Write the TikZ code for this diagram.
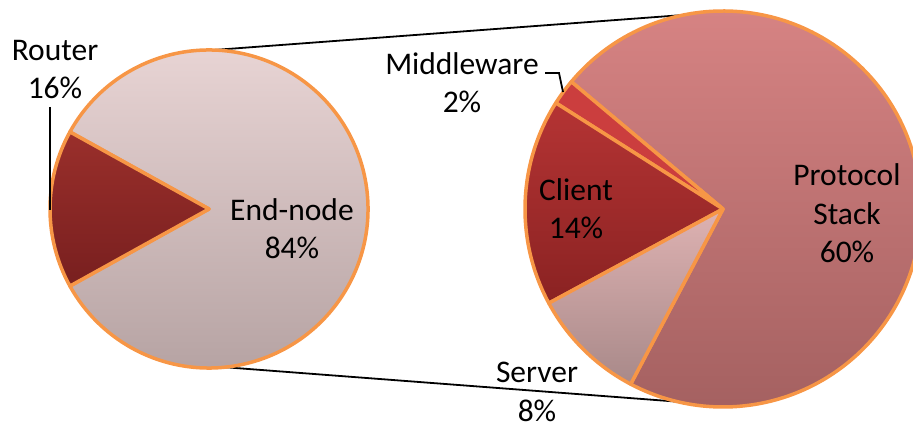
\documentclass[tikz,border=0pt]{standalone}
\usepackage{fontspec}
\setmainfont{Carlito}
\usetikzlibrary{calc}
\definecolor{pieorange}{HTML}{F79646}
\definecolor{endtop}{HTML}{EBD7D7}
\definecolor{endbot}{HTML}{B3A0A0}
\definecolor{routtop}{HTML}{9A2F2B}
\definecolor{routbot}{HTML}{781F1F}
\definecolor{pstop}{HTML}{D98585}
\definecolor{psbot}{HTML}{A25F5F}
\definecolor{mwcol}{HTML}{CB3E3E}
\definecolor{cltop}{HTML}{B53434}
\definecolor{clbot}{HTML}{8A2222}
\definecolor{svtop}{HTML}{DEB2B2}
\definecolor{svbot}{HTML}{A88989}
\begin{document}
\begin{tikzpicture}[x=1pt,y=1pt,
  slice/.style={draw=pieorange,line width=3.5pt,line join=round},
  lbl/.style={align=center,anchor=base,font=\fontsize{31.5}{38.5}\selectfont,inner sep=0pt},
  leader/.style={draw=black,line width=1.8pt},
  conn/.style={draw=black,line width=1.8pt}]
\useasboundingbox (0,0) rectangle (913,430);
\clip (0,0) rectangle (913,430);
\def\rl{159}
\def\rr{198}
\coordinate (L) at (209,221);
\coordinate (R) at (723,221);
\coordinate (LT) at ($(L)+(88.5:\rl)$);
\coordinate (LB) at ($(L)+(275.7:\rl)$);
\coordinate (RT) at ($(R)+(101.5:\rr)$);
\coordinate (RB) at ($(R)+(256.7:\rr)$);
% connectors
\draw[conn] (LT) -- (RT);
\draw[conn] (LB) -- (RB);
% left pie
\shadedraw[slice,top color=endtop,bottom color=endbot]
  (L) -- ($(L)+(151:\rl)$) arc[start angle=151,end angle=-151,radius=\rl] -- cycle;
\shadedraw[slice,top color=routtop,bottom color=routbot]
  (L) -- ($(L)+(151:\rl)$) arc[start angle=151,end angle=209,radius=\rl] -- cycle;
% right pie
\shadedraw[slice,top color=pstop,bottom color=psbot]
  (R) -- ($(R)+(140:\rr)$) arc[start angle=140,end angle=-117.8,radius=\rr] -- cycle;
\filldraw[slice,fill=mwcol]
  (R) -- ($(R)+(140:\rr)$) arc[start angle=140,end angle=147.6,radius=\rr] -- cycle;
\shadedraw[slice,top color=cltop,bottom color=clbot]
  (R) -- ($(R)+(147.6:\rr)$) arc[start angle=147.6,end angle=208.4,radius=\rr] -- cycle;
\shadedraw[slice,top color=svtop,bottom color=svbot]
  (R) -- ($(R)+(208.4:\rr)$) arc[start angle=208.4,end angle=242.2,radius=\rr] -- cycle;
% labels (base = last line)
\node[lbl] (router) at (55,331) {Router\\16\%};
\node[lbl] (endnode) at (292,171) {End-node\\84\%};
\node[lbl] (mw) at (462,317) {Middleware\\2\%};
\node[lbl] (client) at (576,191) {Client\\14\%};
\node[lbl] (ps) at (847,167) {Protocol\\Stack\\60\%};
\node[lbl] (server) at (537,8.5) {Server\\8\%};
% leaders
\coordinate (rl1) at (50,323);
\coordinate (rl2) at (50,220);
\draw[leader] (rl1) -- (rl2);
\coordinate (ml1) at (545,357);
\coordinate (ml2) at (559,357);
\coordinate (ml3) at (563,338);
\draw[leader] (ml1) -- (ml2) -- (ml3);
\end{tikzpicture}
\end{document}
